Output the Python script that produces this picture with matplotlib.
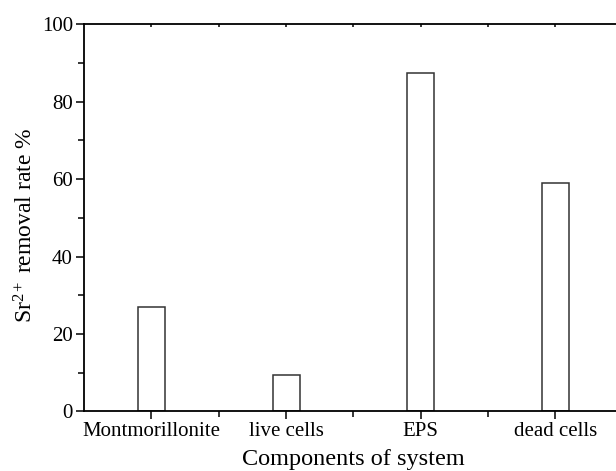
import matplotlib
matplotlib.use('Agg')
import matplotlib.pyplot as plt
from matplotlib.ticker import MultipleLocator, FixedLocator

plt.rcParams['font.family'] = ['Liberation Serif', 'DejaVu Serif']
plt.rcParams['mathtext.fontset'] = 'custom'
plt.rcParams['mathtext.rm'] = 'Liberation Serif'
plt.rcParams['mathtext.it'] = 'Liberation Serif:italic'

# removal rate of Sr2+ by each part of the system
components = ['Montmorillonite', 'live cells', 'EPS', 'dead cells']
removal_rate = [27.0, 9.3, 87.5, 58.9]

fig = plt.figure(figsize=(6.16, 4.71), dpi=100)
ax = fig.add_axes([0.1364, 0.1268, 0.8746, 0.8214])

pos = list(range(1, len(components) + 1))
ax.bar(pos, removal_rate, width=0.2, facecolor='white', edgecolor='#333333', linewidth=1.1)

ax.set_xlim(0.5, 4.5)
ax.set_ylim(0, 100)
ax.set_xticks(pos)
ax.set_xticklabels(components, fontsize=15)
ax.xaxis.set_minor_locator(FixedLocator([1.5, 2.5, 3.5]))
ax.yaxis.set_major_locator(MultipleLocator(20))
ax.yaxis.set_minor_locator(MultipleLocator(10))

ax.tick_params(which='major', direction='out', length=6, width=1.1, labelsize=15, pad=2)
ax.tick_params(which='minor', direction='out', length=4, width=1.1)
# tiny inward marks on the top frame
ax.tick_params(axis='x', which='both', top=True, labeltop=False)
for t in ax.xaxis.get_major_ticks() + ax.xaxis.get_minor_ticks():
    t.tick2line.set_markersize(2)
    t.tick2line.set_marker(3)  # TICKDOWN, points into the axes

for side in ['left', 'bottom', 'top', 'right']:
    ax.spines[side].set_linewidth(1.3)

ax.set_xlabel('Components of system', fontsize=17.5, labelpad=5.5)
ax.set_ylabel('Sr$^{2+}$ removal rate %', fontsize=17)
ax.yaxis.set_label_coords(-0.087, 0.48)

fig.savefig('out.png', dpi=100)
